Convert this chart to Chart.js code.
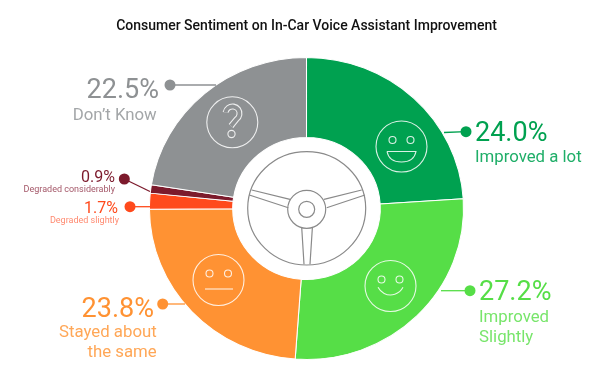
<!DOCTYPE html>
<html>
<head>
<meta charset="utf-8">
<style>
  html, body { margin: 0; padding: 0; background: #fff; }
  #wrap { width: 600px; height: 378px; }
</style>
<script src="https://cdn.jsdelivr.net/npm/chart.js@4"></script>
</head>
<body>
<div id="wrap"><canvas id="sentimentChart" width="600" height="378"></canvas></div>
<script>
/*********************************************************
 DATA
*********************************************************/
const categories = ["Improved a lot", "Improved Slightly", "Stayed about the same", "Degraded slightly", "Degraded considerably", "Don't Know"];
const values = [24.0, 27.2, 23.8, 1.7, 0.9, 22.5];
const sliceColors = ["#00a150", "#56de47", "#ff9233", "#ff4a1c", "#7c1a2c", "#8e9193"];
const subColors = ["#1fae68", "#78e56b", "#ffa757", "#ff8a70", "#a5596a", "#a3a6a8"];
const chartTitle = "Consumer Sentiment on In-Car Voice Assistant Improvement";

/*********************************************************
 LAYOUT (labels, leaders, icons)
*********************************************************/
const STRETCH = 1.04;
const FONT = "Roboto, sans-serif";

// one per slice: dot, leader end, text x for pct / sub lines, baselines and sizes
const callouts = [
  { i: 0, dot: [466, 131.7], end: [444, 132.5], x: 475, subX: 475, align: "left", pctY: 141, pctSize: 27, subSize: 16.8,
    lines: [["Improved a lot", 162.3]] },
  { i: 1, dot: [470, 290.7], end: [441, 290.7], x: 479, subX: 479, align: "left", pctY: 300, pctSize: 27, subSize: 16.8,
    lines: [["Improved", 321.7], ["Slightly", 341.7]] },
  { i: 2, dot: [162.7, 304], end: [185, 304], x: 154, subX: 156.7, align: "right", pctY: 316.7, pctSize: 27, subSize: 16.8,
    lines: [["Stayed about", 336.7], ["the same", 356.7]] },
  { i: 3, dot: [130, 206.7], end: [150, 206.7], x: 118, subX: 119, align: "right", pctY: 212.7, pctSize: 16, subSize: 9,
    lines: [["Degraded slightly", 223]] },
  { i: 4, dot: [124.3, 179], end: [150, 191.5], x: 115, subX: 115, align: "right", pctY: 181.7, pctSize: 16, subSize: 9,
    lines: [["Degraded considerably", 192]] },
  { i: 5, dot: [170, 85], end: [216, 85], x: 159, subX: 156.7, align: "right", pctY: 97.7, pctSize: 27, subSize: 16.8,
    lines: [["Don\u2019t Know", 120]] }
];

/*********************************************************
 PLUGINS
*********************************************************/
// ring in the picture is slightly wider than tall
const stretchRing = {
  id: "stretchRing",
  beforeDatasetsDraw(chart) {
    const c = chart.ctx;
    const m = chart.getDatasetMeta(0).data[0];
    c.save();
    c.translate(m.x, m.y);
    c.scale(STRETCH, 1);
    c.translate(-m.x, -m.y);
  },
  afterDatasetsDraw(chart) {
    chart.ctx.restore();
  }
};

function circle(c, x, y, r) {
  c.beginPath();
  c.arc(x, y, r, 0, Math.PI * 2);
  c.stroke();
}

function drawIcons(c) {
  c.lineWidth = 1.1;
  c.strokeStyle = "rgba(255,255,255,0.85)";

  // big grin
  circle(c, 401.5, 146.5, 25.5);
  circle(c, 392.5, 140, 3.5);
  circle(c, 410.5, 140, 3.5);
  c.beginPath();
  c.moveTo(387, 151.5);
  c.lineTo(416, 151.5);
  c.quadraticCurveTo(414, 162, 401.5, 162);
  c.quadraticCurveTo(389, 162, 387, 151.5);
  c.stroke();

  // smile
  circle(c, 390.5, 286, 25.5);
  circle(c, 381.5, 279.5, 3.5);
  circle(c, 399.5, 279.5, 3.5);
  c.beginPath();
  c.arc(390.5, 281, 14, Math.PI * 0.15, Math.PI * 0.85);
  c.stroke();

  // neutral
  circle(c, 218.5, 280, 25.5);
  circle(c, 209.5, 273.5, 3.5);
  circle(c, 228, 273.5, 3.5);
  c.beginPath();
  c.moveTo(205, 289);
  c.lineTo(233, 289);
  c.stroke();

  // question mark, outlined: wide white stroke then grey over it
  circle(c, 232.3, 122.3, 25.5);
  [[6, "rgba(255,255,255,0.85)"], [3.8, sliceColors[5]]].forEach(([w, col]) => {
    c.lineWidth = w;
    c.strokeStyle = col;
    c.beginPath();
    c.arc(232.5, 113.5, 7, Math.PI * 1.05, Math.PI * 2.3);
    c.lineTo(231, 126);
    c.stroke();
  });
  c.lineWidth = 1.1;
  c.strokeStyle = "rgba(255,255,255,0.85)";
  circle(c, 231.5, 134, 3.6);
}

function drawWheel(c) {
  c.strokeStyle = "#8a8a8a";
  c.lineWidth = 1.2;
  c.save();
  c.translate(306.7, 209.3);
  c.beginPath();
  c.ellipse(0, -1, 59, 56.7, 0, 0, Math.PI * 2);
  c.stroke();
  circle(c, 0, 0, 19);
  circle(c, 0, 0, 8);
  // spokes
  c.beginPath();
  c.moveTo(-16.7, -10); c.lineTo(-55, -19.3);
  c.moveTo(-18.4, -1.6); c.lineTo(-57.4, -14.3);
  c.moveTo(17.3, -10);  c.lineTo(55, -19.3);
  c.moveTo(20, -1.6);   c.lineTo(58.3, -14.3);
  c.moveTo(-5, 18);     c.lineTo(-2.7, 55);
  c.moveTo(5.7, 18);    c.lineTo(3.3, 55);
  c.stroke();
  c.restore();
}

function label(c, str, x, y, size, color, align) {
  c.font = "400 " + size + "px " + FONT;
  c.fillStyle = color;
  c.textAlign = align;
  c.textBaseline = "alphabetic";
  c.fillText(str, x, y);
}

const annotations = {
  id: "annotations",
  afterDraw(chart) {
    const c = chart.ctx;
    c.save();
    drawIcons(c);
    drawWheel(c);

    callouts.forEach(o => {
      const col = sliceColors[o.i];
      c.strokeStyle = col;
      c.fillStyle = col;
      c.lineWidth = 1.3;
      c.beginPath();
      c.moveTo(o.dot[0], o.dot[1]);
      c.lineTo(o.end[0], o.end[1]);
      c.stroke();
      c.beginPath();
      c.arc(o.dot[0], o.dot[1], 5.5, 0, Math.PI * 2);
      c.fill();

      label(c, values[o.i].toFixed(1) + "%", o.x, o.pctY, o.pctSize, col, o.align);
      o.lines.forEach(l => label(c, l[0], o.subX, l[1], o.subSize, subColors[o.i], o.align));
    });
    c.restore();
  }
};

/*********************************************************
 CHART
*********************************************************/
const ctx = document.getElementById("sentimentChart").getContext("2d");

const sentimentChart = new Chart(ctx, {
  type: "doughnut",
  data: {
    labels: categories,
    datasets: [{
      data: values,
      backgroundColor: sliceColors,
      borderColor: "#ffffff",
      borderWidth: 1
    }]
  },
  options: {
    responsive: false,
    animation: false,
    cutout: "47%",
    layout: { padding: { top: 0, bottom: 18, left: 13, right: 0 } },
    plugins: {
      legend: { display: false },
      tooltip: { enabled: false },
      title: {
        display: true,
        text: chartTitle,
        color: "#111111",
        font: { family: FONT, size: 14, weight: "500" },
        padding: { top: 18.5, bottom: 21.7 }
      }
    }
  },
  plugins: [stretchRing, annotations]
});
</script>
</body>
</html>
